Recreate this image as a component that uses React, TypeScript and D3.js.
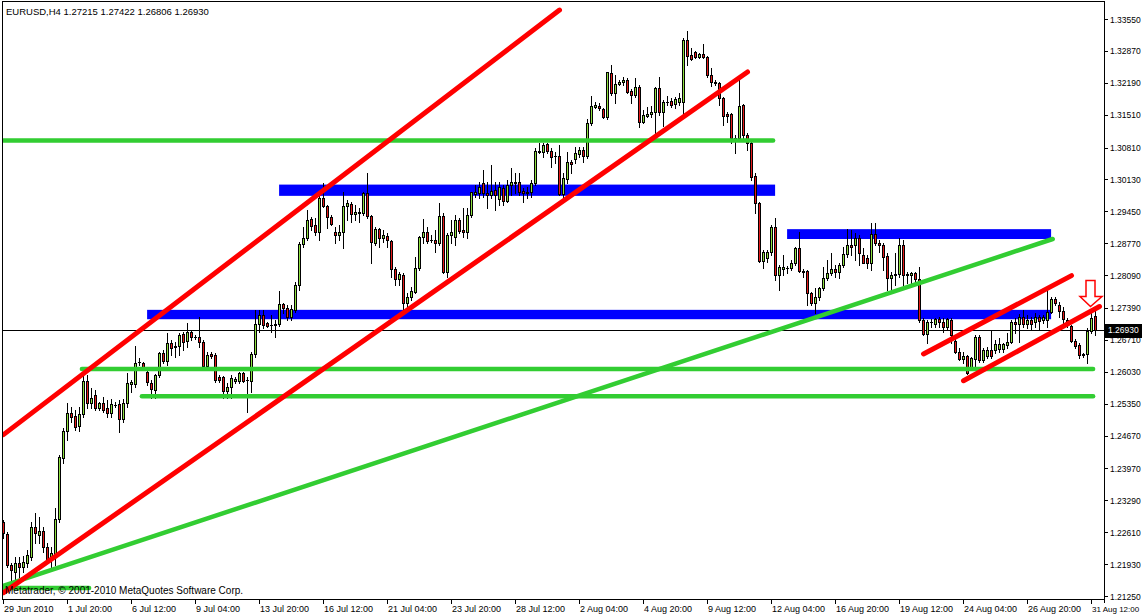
import React from "react";
import * as d3 from "d3";

// ---- data ----
// each candle: [open, high, low, close]
const candles: [number, number, number, number][] = [
  [1.2283,1.2287,1.2249,1.2260],[1.2258,1.2262,1.2187,1.2191],[1.2191,1.2196,1.2159,1.2181],[1.2177,1.2208,1.2155,1.2196],
  [1.2196,1.2208,1.2166,1.2187],[1.2187,1.2211,1.2177,1.2198],[1.2196,1.2223,1.2187,1.2213],[1.2208,1.2283,1.2202,1.2272],
  [1.2272,1.2302,1.2238,1.2260],[1.2255,1.2294,1.2238,1.2264],[1.2264,1.2272,1.2219,1.2230],[1.2230,1.2238,1.2196,1.2204],
  [1.2206,1.2230,1.2187,1.2217],[1.2213,1.2313,1.2191,1.2290],[1.2290,1.2426,1.2283,1.2422],[1.2420,1.2484,1.2409,1.2477],
  [1.2477,1.2537,1.2458,1.2515],[1.2515,1.2528,1.2496,1.2507],[1.2509,1.2522,1.2479,1.2486],[1.2488,1.2528,1.2477,1.2513],
  [1.2513,1.2597,1.2507,1.2584],[1.2584,1.2597,1.2526,1.2537],[1.2537,1.2569,1.2526,1.2548],[1.2554,1.2565,1.2522,1.2526],
  [1.2526,1.2539,1.2522,1.2537],[1.2537,1.2550,1.2518,1.2522],[1.2526,1.2543,1.2507,1.2515],[1.2515,1.2545,1.2507,1.2535],
  [1.2533,1.2539,1.2528,1.2533],[1.2535,1.2543,1.2475,1.2503],[1.2503,1.2545,1.2496,1.2537],[1.2537,1.2601,1.2528,1.2579],
  [1.2577,1.2586,1.2560,1.2582],[1.2577,1.2658,1.2571,1.2622],[1.2624,1.2633,1.2618,1.2624],[1.2622,1.2624,1.2607,1.2614],
  [1.2603,1.2614,1.2575,1.2582],[1.2579,1.2586,1.2548,1.2567],[1.2565,1.2599,1.2548,1.2597],[1.2597,1.2646,1.2592,1.2643],
  [1.2643,1.2650,1.2622,1.2626],[1.2626,1.2686,1.2618,1.2665],[1.2665,1.2671,1.2639,1.2654],[1.2658,1.2667,1.2635,1.2656],
  [1.2658,1.2686,1.2639,1.2682],[1.2684,1.2688,1.2650,1.2667],[1.2669,1.2707,1.2656,1.2688],[1.2688,1.2692,1.2671,1.2678],
  [1.2678,1.2682,1.2673,1.2678],[1.2678,1.2720,1.2656,1.2667],[1.2667,1.2671,1.2614,1.2616],[1.2616,1.2646,1.2614,1.2639],
  [1.2641,1.2646,1.2633,1.2637],[1.2639,1.2643,1.2582,1.2586],[1.2592,1.2597,1.2582,1.2586],[1.2592,1.2594,1.2548,1.2562],
  [1.2562,1.2579,1.2548,1.2571],[1.2571,1.2597,1.2548,1.2590],[1.2584,1.2592,1.2579,1.2588],[1.2584,1.2603,1.2579,1.2601],
  [1.2601,1.2603,1.2582,1.2584],[1.2586,1.2592,1.2518,1.2586],[1.2584,1.2646,1.2560,1.2641],[1.2641,1.2735,1.2635,1.2705],
  [1.2705,1.2735,1.2688,1.2724],[1.2724,1.2735,1.2697,1.2703],[1.2707,1.2710,1.2699,1.2701],[1.2703,1.2724,1.2688,1.2703],
  [1.2703,1.2714,1.2678,1.2705],[1.2705,1.2776,1.2701,1.2748],[1.2748,1.2750,1.2729,1.2739],[1.2739,1.2746,1.2714,1.2720],
  [1.2720,1.2746,1.2714,1.2737],[1.2735,1.2795,1.2731,1.2788],[1.2788,1.2880,1.2778,1.2876],[1.2876,1.2912,1.2869,1.2889],
  [1.2889,1.2948,1.2884,1.2927],[1.2929,1.2933,1.2906,1.2914],[1.2916,1.2931,1.2895,1.2901],[1.2901,1.2980,1.2884,1.2974],
  [1.2974,1.3006,1.2955,1.2957],[1.2957,1.2959,1.2910,1.2933],[1.2933,1.2938,1.2916,1.2918],[1.2901,1.2912,1.2878,1.2895],
  [1.2895,1.2916,1.2884,1.2901],[1.2901,1.2987,1.2867,1.2957],[1.2957,1.2970,1.2927,1.2963],[1.2961,1.2965,1.2923,1.2940],
  [1.2940,1.2959,1.2927,1.2944],[1.2942,1.2953,1.2923,1.2944],[1.2942,1.2987,1.2938,1.2985],[1.2985,1.3027,1.2931,1.2936],
  [1.2936,1.2938,1.2835,1.2880],[1.2878,1.2912,1.2874,1.2908],[1.2908,1.2910,1.2869,1.2889],[1.2889,1.2906,1.2880,1.2895],
  [1.2893,1.2899,1.2869,1.2884],[1.2882,1.2884,1.2805,1.2823],[1.2823,1.2827,1.2788,1.2801],[1.2801,1.2816,1.2788,1.2812],
  [1.2810,1.2814,1.2735,1.2750],[1.2750,1.2771,1.2735,1.2763],[1.2763,1.2784,1.2756,1.2776],[1.2774,1.2848,1.2771,1.2825],
  [1.2825,1.2893,1.2820,1.2891],[1.2891,1.2929,1.2878,1.2901],[1.2901,1.2912,1.2878,1.2882],[1.2884,1.2895,1.2880,1.2884],
  [1.2884,1.2906,1.2859,1.2878],[1.2878,1.2963,1.2874,1.2936],[1.2936,1.2942,1.2814,1.2816],[1.2816,1.2899,1.2805,1.2895],
  [1.2895,1.2927,1.2878,1.2901],[1.2891,1.2938,1.2874,1.2927],[1.2927,1.2931,1.2899,1.2904],[1.2906,1.2953,1.2891,1.2901],
  [1.2901,1.2953,1.2889,1.2938],[1.2938,1.2987,1.2933,1.2987],[1.2982,1.3002,1.2976,1.2987],[1.2985,1.3008,1.2974,1.2997],
  [1.3006,1.3034,1.2976,1.2985],[1.2985,1.3008,1.2953,1.2980],[1.2980,1.3044,1.2974,1.2989],[1.2991,1.3008,1.2948,1.2980],
  [1.2972,1.3008,1.2959,1.2997],[1.2995,1.3002,1.2959,1.2967],[1.2967,1.3012,1.2965,1.3002],[1.3002,1.3038,1.2980,1.3008],
  [1.3006,1.3027,1.2985,1.3008],[1.3008,1.3027,1.2980,1.2987],[1.2989,1.2995,1.2965,1.2985],[1.2987,1.2997,1.2974,1.2985],
  [1.2987,1.3012,1.2976,1.3006],[1.3006,1.3080,1.3002,1.3074],[1.3072,1.3091,1.3070,1.3074],[1.3072,1.3091,1.3061,1.3087],
  [1.3089,1.3091,1.3070,1.3074],[1.3074,1.3080,1.3040,1.3061],[1.3063,1.3072,1.3048,1.3063],[1.3063,1.3087,1.2980,1.2982],
  [1.2982,1.3027,1.2976,1.3016],[1.3014,1.3072,1.3006,1.3051],[1.3051,1.3055,1.3027,1.3046],[1.3057,1.3083,1.3048,1.3070],
  [1.3068,1.3083,1.3061,1.3076],[1.3076,1.3083,1.3051,1.3063],[1.3063,1.3142,1.3059,1.3134],[1.3134,1.3191,1.3130,1.3170],
  [1.3168,1.3179,1.3166,1.3172],[1.3170,1.3176,1.3161,1.3166],[1.3164,1.3166,1.3144,1.3147],[1.3147,1.3242,1.3142,1.3242],
  [1.3240,1.3257,1.3193,1.3198],[1.3198,1.3236,1.3176,1.3217],[1.3217,1.3225,1.3215,1.3221],[1.3221,1.3232,1.3215,1.3225],
  [1.3225,1.3230,1.3198,1.3200],[1.3202,1.3206,1.3176,1.3193],[1.3193,1.3230,1.3189,1.3210],[1.3210,1.3215,1.3125,1.3136],
  [1.3136,1.3161,1.3134,1.3151],[1.3149,1.3168,1.3147,1.3153],[1.3153,1.3170,1.3147,1.3157],[1.3157,1.3210,1.3112,1.3208],
  [1.3208,1.3232,1.3151,1.3157],[1.3157,1.3183,1.3127,1.3179],[1.3179,1.3191,1.3172,1.3179],[1.3181,1.3187,1.3168,1.3172],
  [1.3174,1.3189,1.3166,1.3185],[1.3179,1.3198,1.3172,1.3187],[1.3179,1.3315,1.3151,1.3311],[1.3311,1.3330,1.3257,1.3277],
  [1.3279,1.3294,1.3268,1.3270],[1.3285,1.3287,1.3272,1.3274],[1.3274,1.3283,1.3272,1.3281],[1.3281,1.3302,1.3272,1.3274],
  [1.3274,1.3277,1.3232,1.3236],[1.3236,1.3251,1.3213,1.3221],[1.3221,1.3225,1.3215,1.3219],[1.3219,1.3221,1.3172,1.3187],
  [1.3187,1.3189,1.3130,1.3149],[1.3153,1.3157,1.3136,1.3149],[1.3153,1.3155,1.3091,1.3102],[1.3102,1.3108,1.3070,1.3102],
  [1.3102,1.3230,1.3097,1.3170],[1.3172,1.3174,1.3097,1.3108],[1.3108,1.3112,1.3076,1.3091],[1.3091,1.3097,1.3012,1.3019],
  [1.3021,1.3027,1.2942,1.2963],[1.2963,1.2965,1.2838,1.2840],[1.2840,1.2863,1.2825,1.2859],[1.2846,1.2863,1.2837,1.2859],
  [1.2859,1.2916,1.2852,1.2912],[1.2912,1.2931,1.2799,1.2810],[1.2810,1.2831,1.2778,1.2827],[1.2823,1.2852,1.2810,1.2827],
  [1.2825,1.2829,1.2814,1.2825],[1.2825,1.2842,1.2820,1.2835],[1.2835,1.2869,1.2831,1.2867],[1.2867,1.2901,1.2816,1.2818],
  [1.2818,1.2823,1.2805,1.2816],[1.2818,1.2820,1.2746,1.2771],[1.2771,1.2774,1.2746,1.2750],[1.2750,1.2782,1.2729,1.2763],
  [1.2763,1.2784,1.2756,1.2782],[1.2782,1.2827,1.2778,1.2803],[1.2803,1.2842,1.2799,1.2814],[1.2814,1.2857,1.2810,1.2823],
  [1.2823,1.2831,1.2805,1.2816],[1.2816,1.2835,1.2803,1.2831],[1.2831,1.2869,1.2827,1.2855],[1.2855,1.2908,1.2848,1.2874],
  [1.2874,1.2906,1.2852,1.2869],[1.2874,1.2899,1.2842,1.2889],[1.2889,1.2895,1.2831,1.2857],[1.2852,1.2867,1.2835,1.2835],
  [1.2846,1.2852,1.2825,1.2835],[1.2835,1.2921,1.2820,1.2897],[1.2897,1.2921,1.2874,1.2878],[1.2878,1.2884,1.2859,1.2874],
  [1.2874,1.2878,1.2820,1.2848],[1.2850,1.2857,1.2778,1.2803],[1.2803,1.2816,1.2778,1.2810],[1.2810,1.2857,1.2788,1.2812],
  [1.2812,1.2889,1.2805,1.2874],[1.2874,1.2884,1.2788,1.2810],[1.2812,1.2816,1.2793,1.2810],[1.2810,1.2816,1.2784,1.2814],
  [1.2814,1.2816,1.2788,1.2801],[1.2801,1.2827,1.2710,1.2714],[1.2714,1.2718,1.2682,1.2684],[1.2684,1.2714,1.2665,1.2710],
  [1.2710,1.2716,1.2699,1.2710],[1.2705,1.2718,1.2699,1.2716],[1.2716,1.2720,1.2699,1.2710],[1.2710,1.2718,1.2688,1.2699],
  [1.2699,1.2718,1.2692,1.2716],[1.2714,1.2718,1.2665,1.2682],[1.2669,1.2678,1.2643,1.2646],[1.2646,1.2654,1.2629,1.2631],
  [1.2631,1.2646,1.2622,1.2637],[1.2637,1.2639,1.2599,1.2601],[1.2611,1.2635,1.2607,1.2633],[1.2631,1.2682,1.2614,1.2678],
  [1.2678,1.2682,1.2624,1.2629],[1.2629,1.2654,1.2624,1.2650],[1.2637,1.2656,1.2633,1.2650],[1.2650,1.2692,1.2633,1.2637],
  [1.2650,1.2671,1.2643,1.2663],[1.2652,1.2676,1.2646,1.2663],[1.2652,1.2665,1.2646,1.2663],[1.2661,1.2686,1.2654,1.2667],
  [1.2667,1.2714,1.2665,1.2710],[1.2710,1.2718,1.2686,1.2705],[1.2705,1.2727,1.2667,1.2720],[1.2720,1.2735,1.2699,1.2705],
  [1.2705,1.2724,1.2697,1.2714],[1.2714,1.2720,1.2692,1.2705],[1.2710,1.2729,1.2699,1.2720],[1.2720,1.2724,1.2692,1.2712],
  [1.2714,1.2724,1.2707,1.2720],[1.2714,1.2778,1.2699,1.2731],[1.2731,1.2763,1.2729,1.2759],[1.2759,1.2763,1.2746,1.2750],
  [1.2746,1.2752,1.2720,1.2733],[1.2733,1.2742,1.2707,1.2716],[1.2714,1.2718,1.2699,1.2710],[1.2701,1.2703,1.2667,1.2669],
  [1.2669,1.2673,1.2654,1.2658],[1.2661,1.2665,1.2633,1.2639],[1.2641,1.2643,1.2635,1.2639],[1.2641,1.2697,1.2622,1.2690],
  [1.2690,1.2729,1.2686,1.2718],[1.27215,1.27422,1.26806,1.2693],
];

const priceTicks = [1.3355, 1.3287, 1.3219, 1.3151, 1.3081, 1.3013, 1.2945, 1.2877, 1.2809, 1.2739,
  1.2671, 1.2603, 1.2535, 1.2467, 1.2397, 1.2329, 1.2261, 1.2193, 1.2125];

const timeLabels = ["29 Jun 2010", "1 Jul 20:00", "6 Jul 12:00", "9 Jul 04:00", "13 Jul 20:00", "16 Jul 12:00",
  "21 Jul 04:00", "23 Jul 20:00", "28 Jul 12:00", "2 Aug 04:00", "4 Aug 20:00", "9 Aug 12:00", "12 Aug 04:00",
  "16 Aug 20:00", "19 Aug 12:00", "24 Aug 04:00", "26 Aug 20:00", "31 Aug 12:00"];
const timeLabelBars = [0, 16, 32, 48, 64, 80, 96, 112, 128, 144, 160, 176, 192, 208, 224, 240, 256, 272];

// drawn objects: [barFrom, priceFrom, barTo, priceTo]
const redLines: [number, number, number, number][] = [
  [0, 1.2469, 139, 1.3374],
  [0, 1.2132, 186, 1.3242],
  [230, 1.2641, 267, 1.2808],
  [240, 1.2584, 274, 1.2742],
];
const greenLines: [number, number, number, number][] = [
  [0, 1.3096, 192.4, 1.3096],
  [19.6, 1.2609, 272.4, 1.2609],
  [34.6, 1.2551, 272.4, 1.2551],
  [0.1, 1.2147, 262.3, 1.2886],
  [0, 1.2142, 21.4, 1.2142],
];
// rectangles: [barFrom, barTo, priceLow, priceHigh]
const blueRects: [number, number, number, number][] = [
  [68.9, 192.9, 1.2978, 1.3002],
  [35.9, 261.9, 1.2715, 1.2735],
  [195.9, 261.9, 1.2886, 1.2907],
];
const arrowAnchor = { bar: 272, price: 1.2742 };
const symbolTitle = "EURUSD,H4  1.27215 1.27422 1.26806 1.26930";
const bidPrice = 1.2693;
const watermark = "Metatrader, \u00A9 2001-2010 MetaQuotes Software Corp.";

// ---- layout ----
const W = 1142, H = 616;
const L = 2, R = 1104, T = 2, B = 599;
const FONT = "'Liberation Sans', Arial, sans-serif";
const BULL = "#8EE040";
const BEAR = "#E41A1A";

export default function App() {
  const x = d3.scaleLinear().domain([0, candles.length - 1]).range([3.5, 3.5 + 4 * (candles.length - 1)]);
  const y = d3.scaleLinear().domain([1.2125, 1.3355]).range([596, 19]);
  const line = d3.line<[number, number]>().x((d) => x(d[0])).y((d) => y(d[1]));

  const ax = x(arrowAnchor.bar), ay = y(arrowAnchor.price);
  const arrowPath = `M${ax - 5.5},${ay - 26} L${ax + 3.5},${ay - 26} L${ax + 3.5},${ay - 10} L${ax + 10.5},${ay - 10} L${ax - 1},${ay} L${ax - 11.5},${ay - 10} L${ax - 5.5},${ay - 10} Z`;

  return (
    <div style={{ position: "fixed", left: 0, top: 0, width: W, height: H, background: "#fff" }}>
      <svg width={W} height={H} style={{ display: "block" }}>
        <rect x={0} y={0} width={W} height={H} fill="#fff" />
        <defs>
          <clipPath id="plot">
            <rect x={L} y={T} width={R - L} height={B - T} />
          </clipPath>
        </defs>
        <g clipPath="url(#plot)">
          {blueRects.map((r, i) => (
            <rect key={"b" + i} x={x(r[0])} width={x(r[1]) - x(r[0])} y={y(r[3])} height={y(r[2]) - y(r[3])} fill="#0000FF" />
          ))}
          <line x1={L} x2={R} y1={Math.round(y(bidPrice)) + 0.5} y2={Math.round(y(bidPrice)) + 0.5} stroke="#000" strokeWidth={1} />
          <g shapeRendering="crispEdges">
            {candles.map((c, i) => {
              const [o, h, l, cl] = c;
              const cx = x(i);
              const top = Math.round(y(Math.max(o, cl)));
              const bot = Math.round(y(Math.min(o, cl)));
              const bull = cl >= o;
              return (
                <g key={i}>
                  <line x1={cx} x2={cx} y1={Math.round(y(h))} y2={Math.round(y(l)) + 1} stroke="#000" strokeWidth={1} />
                  {bot - top >= 1 ? (
                    <rect x={cx - 1} width={2} y={top + 0.5} height={bot - top} fill={bull ? BULL : BEAR} stroke="#000" strokeWidth={1} />
                  ) : (
                    <line x1={cx - 1.5} x2={cx + 1.5} y1={top + 0.5} y2={top + 0.5} stroke="#000" strokeWidth={1} />
                  )}
                </g>
              );
            })}
          </g>
          {greenLines.map((g, i) => (
            <path key={"g" + i} d={line([[g[0], g[1]], [g[2], g[3]]]) || ""} stroke="#32CD32" strokeWidth={4.5} strokeLinecap="round" fill="none" />
          ))}
          {redLines.map((g, i) => (
            <path key={"r" + i} d={line([[g[0], g[1]], [g[2], g[3]]]) || ""} stroke="#FF0000" strokeWidth={5} strokeLinecap="round" fill="none" />
          ))}
          <path d={arrowPath} fill="#fff" stroke="#FF0000" strokeWidth={1.5} strokeLinejoin="miter" />
        </g>
        <text x={6} y={15} fontFamily={FONT} fontSize={9.5} fill="#000">{symbolTitle}</text>
        <text x={5} y={594} fontFamily={FONT} fontSize={10} fill="#000">{watermark}</text>
        {/* frame */}
        <g shapeRendering="crispEdges">
          <line x1={L + 0.5} x2={L + 0.5} y1={T} y2={B + 1} stroke="#000" />
          <line x1={L} x2={R + 1} y1={T + 0.5 - 1} y2={T + 0.5 - 1} stroke="#000" />
          <line x1={R + 0.5} x2={R + 0.5} y1={T - 1} y2={B + 4} stroke="#000" />
          <line x1={L} x2={R + 1} y1={B + 0.5} y2={B + 0.5} stroke="#000" />
          {priceTicks.map((p, i) => (
            <line key={"pt" + i} x1={R} x2={R + 4} y1={Math.round(y(p)) + 0.5} y2={Math.round(y(p)) + 0.5} stroke="#000" />
          ))}
          {timeLabelBars.map((b, i) => (
            <line key={"tt" + i} x1={Math.floor(x(b)) + 0.5} x2={Math.floor(x(b)) + 0.5} y1={B} y2={B + 5} stroke="#000" />
          ))}
        </g>
        {priceTicks.map((p, i) => (
          <text key={"pl" + i} x={1110} y={y(p) + 3.5} fontFamily={FONT} fontSize={8.5} fill="#000">{d3.format(".5f")(p)}</text>
        ))}
        {timeLabels.map((t, i) => {
          const tx = Math.floor(x(timeLabelBars[i])) + 1;
          const last = i === timeLabels.length - 1;
          return (
            <text key={"tl" + i} x={tx} y={612} fontFamily={FONT} fontSize={last ? 8 : 9} fill="#000">{t}</text>
          );
        })}
        <rect x={1105} y={Math.round(y(bidPrice)) - 6} width={37} height={14} fill="#000" />
        <text x={1108} y={y(bidPrice) + 3.5} fontFamily={FONT} fontSize={8.5} fill="#fff">{d3.format(".5f")(bidPrice)}</text>
      </svg>
    </div>
  );
}
